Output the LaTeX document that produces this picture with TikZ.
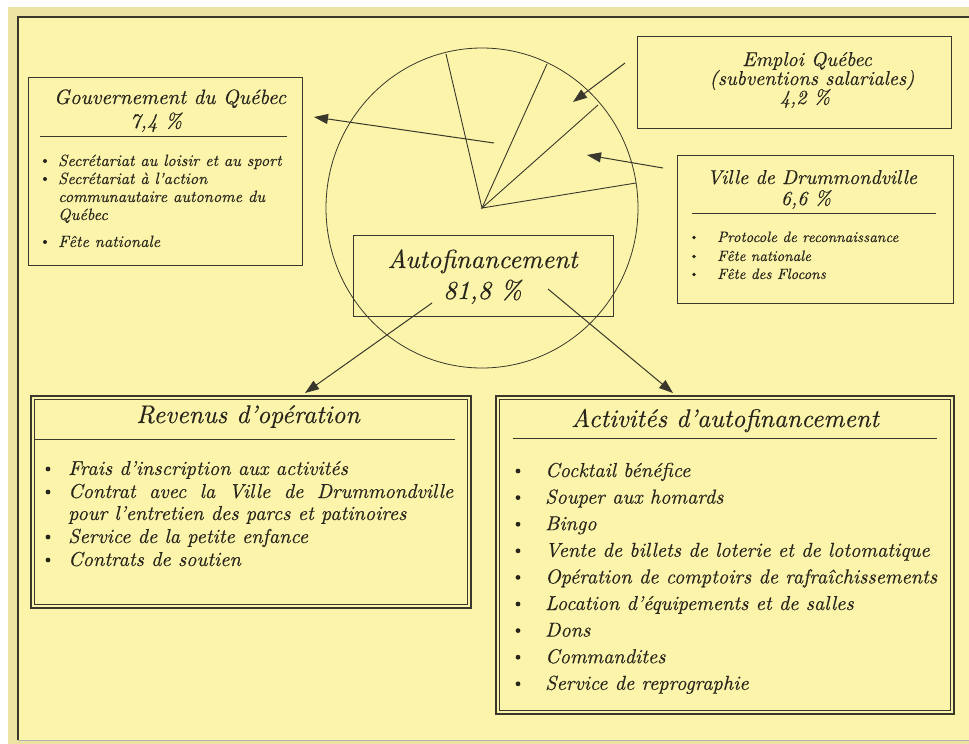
\documentclass[tikz,border=0pt]{standalone}
\usepackage{fontspec}
\setmainfont{lmroman10}[Extension=.otf, UprightFont=*-regular, ItalicFont=*-italic, BoldFont=*-bold, ItalicFeatures={FakeBold=0.35}]
\usetikzlibrary{arrows.meta}
\definecolor{paper}{RGB}{251,244,170}
\definecolor{band}{RGB}{236,226,162}
\definecolor{ink}{RGB}{40,37,28}
\definecolor{edge}{RGB}{58,56,44}
\newcommand{\fsz}[1]{\fontsize{#1pt}{#1pt}\selectfont\itshape}
\begin{document}
\begin{tikzpicture}[x=1pt,y=-1pt,
  box/.style={draw=edge,line width=1pt,fill=none,inner sep=0pt,anchor=north west},
  dbox/.style={draw=edge,line width=1.8pt,fill=none,inner sep=0pt,anchor=north west},
  txt/.style={inner sep=0pt,text=ink},
  rul/.style={draw=edge,line width=0.8pt},
  wedge/.style={draw=edge,line width=0.9pt},
  arr/.style={draw=edge,line width=1pt,-{Triangle[length=14pt,width=10pt]}},
  dot/.style={fill=ink,draw=none},
  gsmall/.style={txt,font=\fsz{16.3},anchor=base west},
  vsmall/.style={txt,font=\fsz{15},anchor=base west},
  big/.style={txt,font=\fsz{20.2},anchor=base west},
  ttl/.style={txt,font=\fsz{20},anchor=base},
  gttl/.style={txt,font=\fsz{20.8},anchor=base},
  btl/.style={txt,font=\fsz{25.5},anchor=base},
  atl/.style={txt,font=\fsz{26},anchor=base}
]
\useasboundingbox (0,0) rectangle (969,744);
% background frame
\fill[white] (0,0) rectangle (969,744);
\fill[band] (8,7) rectangle (969,744);
\fill[paper] (18,17) rectangle (969,740);
\draw[edge,line width=1.6pt] (18,740) -- (18,17) -- (969,17);
\draw[gray!60,line width=1pt] (18,740.5) -- (969,740.5);

% pie
\coordinate (pc) at (482,208);
\draw[wedge,line width=0.8pt] (pc) ellipse [x radius=156, y radius=160];
\coordinate (w1) at (446,54);
\coordinate (w2) at (547,64);
\coordinate (w3) at (598,105);
\coordinate (w4) at (636,183);
\draw[wedge] (w1) -- (pc) -- (w2);
\draw[wedge] (w3) -- (pc) -- (w4);

% Gouvernement du Quebec
\node[box,minimum width=274pt,minimum height=188pt] (gov) at (28,77) {};
\node[gttl] (govt) at (170,104) {Gouvernement du Québec};
\node[gttl] (govp) at (156,128) {7,4 \%};
\draw[rul] (40,136) -- (287,136);
\foreach \y/\t/\b [count=\i] in {166/Secrétariat au loisir et au sport/1,184/Secrétariat à l'action/1,202/communautaire autonome du/0,220/Québec/0,247/Fête nationale/1}{
  \node[gsmall] (gi\i) at (58,\y) {\t};
  \ifnum\b=1 \fill[dot] (45,\y-5) circle (2pt); \fi
}

% Emploi Quebec
\node[box,minimum width=314pt,minimum height=92pt] (emp) at (637,36) {};
\node[ttl] (empt) at (807,66) {Emploi Québec};
\node[ttl] (emps) at (812,85) {(subventions salariales)};
\node[ttl] (empp) at (805,104) {4,2 \%};

% Ville de Drummondville
\node[box,minimum width=276pt,minimum height=148pt] (vil) at (677,155) {};
\node[ttl] (vilt) at (812,184) {Ville de Drummondville};
\node[ttl] (vilp) at (806,205) {6,6 \%};
\draw[rul] (692,213) -- (936,213);
\foreach \y/\t [count=\i] in {242/Protocole de reconnaissance,261/Fête nationale,279/Fête des Flocons}{
  \node[vsmall] (vi\i) at (717,\y) {\t};
  \fill[dot] (694,\y-4.5) circle (1.9pt);
}

% Autofinancement
\node[box,minimum width=260pt,minimum height=81pt] (aut) at (353,235) {};
\node[atl] (autt) at (482.5,268) {Autofinancement};
\node[atl] (autp) at (482.5,299) {81,8 \%};

% Revenus d'operation
\node[dbox,minimum width=440pt,minimum height=212pt] (rev) at (30,395) {};
\draw[edge,line width=0.7pt] ([shift={(4,4)}]rev.north west) rectangle ([shift={(-4,-4)}]rev.south east);
\node[btl] (revt) at (248,423) {Revenus d'opération};
\draw[rul] (35,439) -- (455,439);
\node[big] (r1) at (68,475) {Frais d'inscription aux activités};
\node[big] (r2) at (68,498) {\makebox[385pt][s]{Contrat avec la Ville de Drummondville}};
\node[big] (r3) at (68,520) {pour l'entretien des parcs et patinoires};
\node[big] (r4) at (68,543) {Service de la petite enfance};
\node[big] (r5) at (68,566) {Contrats de soutien};
\foreach \y in {475,498,543,566}{\fill[dot] (48,\y-6) circle (2.4pt);}

% Activites d'autofinancement
\node[dbox,minimum width=458pt,minimum height=318pt] (act) at (495,395) {};
\draw[edge,line width=0.7pt] ([shift={(4,4)}]act.north west) rectangle ([shift={(-4,-4)}]act.south east);
\node[btl] (actt) at (725,427) {Activités d'autofinancement};
\draw[rul] (513,438) -- (937,438);
\foreach \t [count=\i] in {Cocktail bénéfice,Souper aux homards,Bingo,Vente de billets de loterie et de lotomatique,Opération de comptoirs de rafraîchissements,Location d'équipements et de salles,Dons,Commandites,Service de reprographie}{
  \pgfmathsetmacro{\yy}{477+(\i-1)*26.6}
  \node[big] (a\i) at (545,\yy) {\t};
  \fill[dot] (518,\yy-6) circle (2.4pt);
}

% arrows
\coordinate (ga) at (494,143); \coordinate (gb) at (314,117);
\coordinate (ea) at (625,63);  \coordinate (eb) at (573,102);
\coordinate (va) at (663,168); \coordinate (vb) at (587,155);
\coordinate (ra) at (432,303); \coordinate (rb) at (305,393);
\coordinate (aa) at (548,289); \coordinate (ab) at (673,393);
\draw[arr] (ga) -- (gb);
\draw[arr] (ea) -- (eb);
\draw[arr] (va) -- (vb);
\draw[arr] (ra) -- (rb);
\draw[arr] (aa) -- (ab);
\end{tikzpicture}
\end{document}
